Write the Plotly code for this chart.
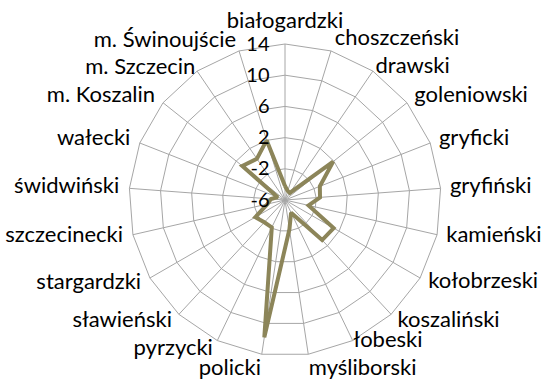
import plotly.graph_objects as go

# Powiats of zachodniopomorskie, clockwise from the top
categories = [
    "białogardzki", "choszczeński", "drawski", "goleniowski", "gryficki",
    "gryfiński", "kamieński", "kołobrzeski", "koszaliński", "łobeski",
    "myśliborski", "policki", "pyrzycki", "sławieński", "stargardzki",
    "szczecinecki", "świdwiński", "wałecki", "m. Koszalin", "m. Szczecin",
    "m. Świnoujście",
]
values = [
    -4.2, -4.8, -4.9, 1.9, -1.2,
    -1.5, -2.9, 1.2, 1.0, -4.2,
    -2.2, 11.8, -2.1, -2.1, -1.6,
    -3.7, -4.2, -5.0, 1.0, 0.4,
    2.0,
]
radial_ticks = [-6, -2, 2, 6, 10, 14]

W, H = 541, 381
grid = "#A6A6A6"
family = "Lato, Open Sans, sans-serif"
label_font = dict(family=family, size=22, color="#000000")
tick_font = dict(family=family, size=20, color="#000000")
r_min, r_max = radial_ticks[0], radial_ticks[-1]

# chart geometry in pixels: centre and outer-ring radius
cx, cy, radius = 285, 200, 156
# a second, invisible polar with the same centre and scale carries the labels
label_max = 17
label_radius = radius * (label_max - r_min) / (r_max - r_min)

# radial nudges that keep neighbouring labels apart where they crowd
label_nudge = {
    "choszczeński": 0.4,
    "drawski": -0.6,
    "łobeski": -1.0,
    "myśliborski": -0.1,
    "m. Szczecin": -0.9,
}


def domain(rad):
    return dict(
        x=[(cx - rad) / W, (cx + rad) / W],
        y=[(H - cy - rad) / H, (H - cy + rad) / H],
    )


def label_anchor(angle):
    """Radius and text position for a category label outside its spoke."""
    if angle < 10 or angle > 350:
        return r_max + 1.3, "top center"
    if angle < 165:
        return r_max + 1.2, "middle right"
    if angle < 180:
        return r_max + 0.6, "bottom right"
    if angle < 195:
        return r_max + 0.6, "bottom left"
    return r_max + 1.3, "middle left"


step = 360 / len(categories)
anchors = [label_anchor(i * step) for i in range(len(categories))]
label_r = [a[0] + label_nudge.get(c, 0.0) for a, c in zip(anchors, categories)]
label_pos = [a[1] for a in anchors]

angular_common = dict(
    rotation=90,
    direction="clockwise",
    categoryorder="array",
    categoryarray=categories,
)

fig = go.Figure()

# data polygon
fig.add_trace(
    go.Scatterpolar(
        r=values + values[:1],
        theta=categories + categories[:1],
        mode="lines",
        line=dict(color="#8C8559", width=4),
        hoverinfo="skip",
        subplot="polar",
    )
)

# category labels outside the outer ring
fig.add_trace(
    go.Scatterpolar(
        r=label_r,
        theta=categories,
        mode="text",
        text=categories,
        textposition=label_pos,
        textfont=label_font,
        cliponaxis=False,
        hoverinfo="skip",
        subplot="polar2",
    )
)

fig.update_layout(
    width=W,
    height=H,
    margin=dict(l=0, r=0, t=0, b=0),
    paper_bgcolor="white",
    plot_bgcolor="white",
    showlegend=False,
    font=label_font,
    polar=dict(
        domain=domain(radius),
        bgcolor="white",
        gridshape="linear",
        angularaxis=dict(
            **angular_common,
            showline=True,
            linecolor=grid,
            linewidth=1,
            gridcolor=grid,
            gridwidth=1,
            ticks="",
            showticklabels=False,
        ),
        radialaxis=dict(
            range=[r_min, r_max],
            tickvals=radial_ticks,
            ticktext=[str(v) for v in radial_ticks],
            angle=90,
            side="counterclockwise",
            tickangle=90,
            showline=False,
            gridcolor=grid,
            gridwidth=1,
            ticks="outside",
            ticklen=8,
            tickcolor="rgba(0,0,0,0)",
            tickfont=tick_font,
        ),
    ),
    polar2=dict(
        domain=domain(label_radius),
        bgcolor="rgba(0,0,0,0)",
        gridshape="linear",
        angularaxis=dict(
            **angular_common,
            showline=False,
            showgrid=False,
            ticks="",
            showticklabels=False,
        ),
        radialaxis=dict(range=[r_min, label_max], visible=False),
    ),
)

fig.write_html("out.html")
